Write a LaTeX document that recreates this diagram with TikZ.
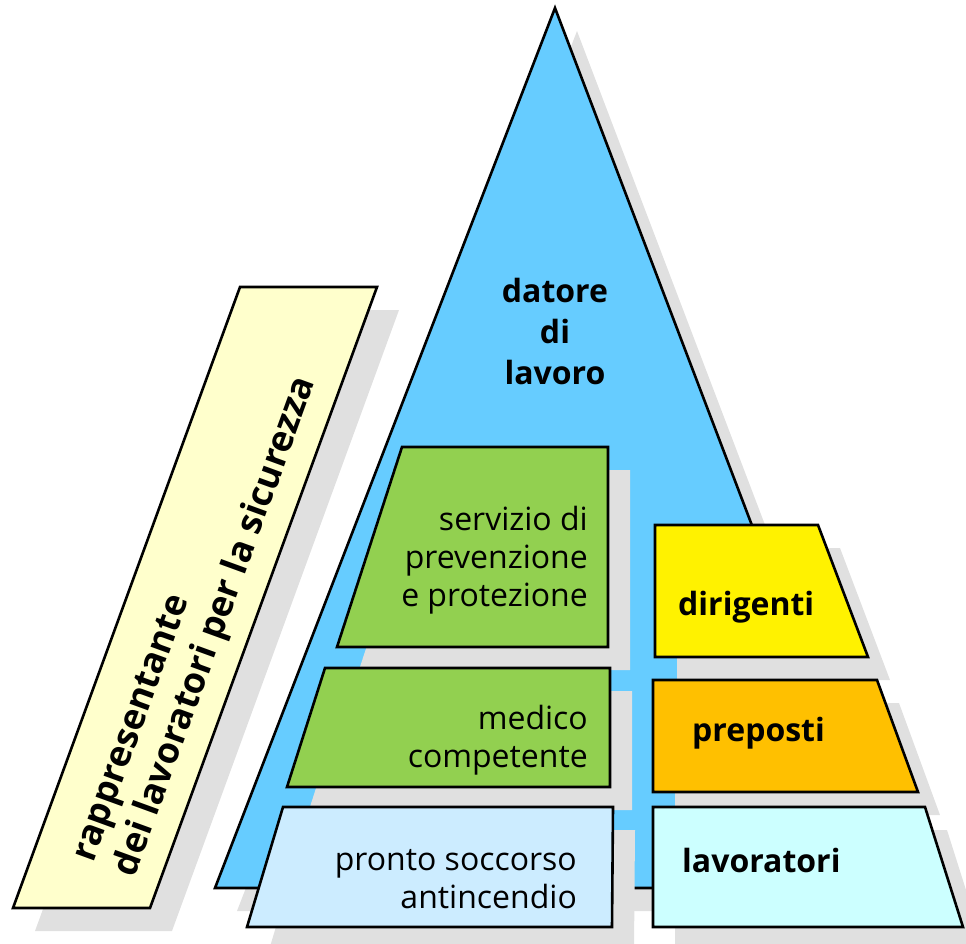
\documentclass[tikz,border=0pt]{standalone}
\usepackage{fontspec}
\setmainfont{Open Sans}
\usepackage{xcolor}
\definecolor{skyblue}{RGB}{102,204,255}
\definecolor{leafgreen}{RGB}{146,208,80}
\definecolor{paleblue}{RGB}{204,236,255}
\definecolor{palecyan}{RGB}{204,255,255}
\definecolor{paleyellow}{RGB}{255,255,204}
\definecolor{amber}{RGB}{255,192,0}
\definecolor{shadowgrey}{RGB}{224,224,224}

\begin{document}
\begin{tikzpicture}[x=1pt, y=-1pt,
            outline/.style={draw=black, line width=2.6pt, line join=miter},
            drop/.style={fill=shadowgrey, shift={(22,23)}},
            bold-label/.style={font=\fontsize{32}{41}\selectfont\bfseries, inner sep=0pt},
            plain-label/.style={font=\fontsize{32}{38}\selectfont, align=right, anchor=east, inner sep=0pt}
        ]

        \useasboundingbox (0,0) rectangle (966,943);

        % Triangle
        \fill[drop] (555,8) -- (890,888) -- (215,888) -- cycle;
        \draw[outline, fill=skyblue] (555,8) -- (890,888) -- (215,888) -- cycle;

        % Banner
        \fill[drop] (240,287) -- (377,287) -- (150,908) -- (13,908) -- cycle;
        \draw[outline, fill=paleyellow] (240,287) -- (377,287) -- (150,908) -- (13,908) -- cycle;

        % Left column
        \fill[drop] (402,447) -- (608,447) -- (608,647) -- (337,647) -- cycle;
        \draw[outline, fill=leafgreen] (402,447) -- (608,447) -- (608,647) -- (337,647) -- cycle;
        \fill[drop] (325,668) -- (610,668) -- (610,787) -- (287,787) -- cycle;
        \draw[outline, fill=leafgreen] (325,668) -- (610,668) -- (610,787) -- (287,787) -- cycle;
        \fill[drop] (283,807) -- (613,807) -- (612,927) -- (247,927) -- cycle;
        \draw[outline, fill=paleblue] (283,807) -- (613,807) -- (612,927) -- (247,927) -- cycle;

        % Right column
        \fill[drop] (655,525) -- (818,525) -- (868,657) -- (655,657) -- cycle;
        \draw[outline, fill=yellow] (655,525) -- (818,525) -- (868,657) -- (655,657) -- cycle;
        \fill[drop] (653,680) -- (877,680) -- (918,792) -- (653,792) -- cycle;
        \draw[outline, fill=amber] (653,680) -- (877,680) -- (918,792) -- (653,792) -- cycle;
        \fill[drop] (653,807) -- (925,807) -- (963,927) -- (653,927) -- cycle;
        \draw[outline, fill=palecyan] (653,807) -- (925,807) -- (963,927) -- (653,927) -- cycle;

        % Labels
        \node[bold-label, align=center] (employer) at (555,331) {datore\\di\\lavoro};
        \node[bold-label, font=\fontsize{36}{44}\selectfont\bfseries, align=left, rotate=70] (rls) at (197,620) {rappresentante\\dei lavoratori per la sicurezza};
        \node[plain-label] (spp) at (588,560) {servizio di\\prevenzione\\e protezione};
        \node[plain-label] (doctor) at (588,740) {medico\\competente};
        \node[plain-label] (firstaid) at (577,879) {pronto soccorso\\antincendio};
        \node[bold-label, anchor=west] (managers) at (678,607) {dirigenti};
        \node[bold-label, anchor=west] (foremen) at (692,733) {preposti};
        \node[bold-label, anchor=west] (workers) at (682,860) {lavoratori};

    \end{tikzpicture}
\end{document}
